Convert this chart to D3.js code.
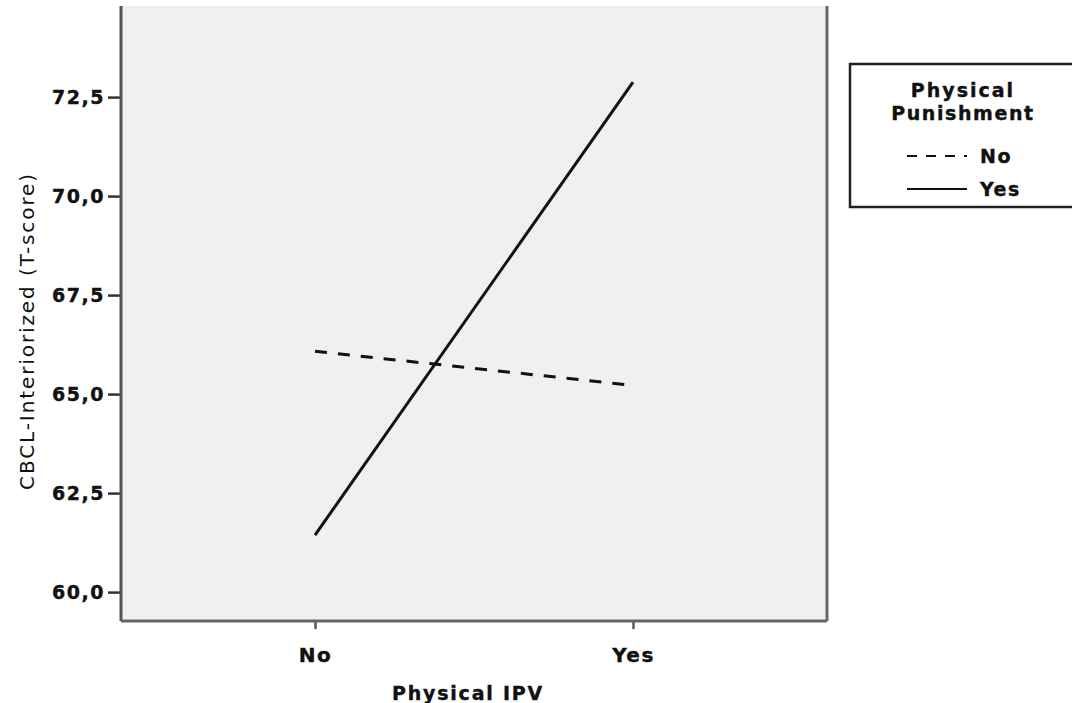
<!DOCTYPE html>
<html>
<head>
<meta charset="utf-8">
<script src="https://cdn.jsdelivr.net/npm/d3@7"></script>
<style>
  body { margin: 0; background: #fff; }
  text { font-family: "DejaVu Sans", sans-serif; fill: #111; }
  .heavy { stroke: #111; stroke-width: 0.4px; }
</style>
</head>
<body>
<div id="chart"></div>
<script>
// data
var ipvLevels = ["No", "Yes"];
var seriesNames = ["No", "Yes"];
var punishNo = [66.08, 65.22];
var punishYes = [61.44, 72.88];
var yTicks = [60.0, 62.5, 65.0, 67.5, 70.0, 72.5];

var W = 1072, H = 703;
var margin = {top: 6, right: 245, bottom: 82, left: 121},
    width = W - margin.left - margin.right,
    height = H - margin.top - margin.bottom;

var svg = d3.select("#chart").append("svg")
    .attr("width", W)
    .attr("height", H);

var g = svg.append("g")
    .attr("transform", "translate(" + margin.left + "," + margin.top + ")");

// plot background
g.append("rect")
    .attr("width", width)
    .attr("height", height)
    .attr("fill", "#f0f0f0");

var x = d3.scalePoint()
    .domain(ipvLevels)
    .range([194, 512]);

var y = d3.scaleLinear()
    .domain([59.27, 74.8])
    .range([height, 0]);

// y axis
var yAxis = g.append("g")
    .call(d3.axisLeft(y).tickValues(yTicks).tickSize(13).tickPadding(3)
        .tickFormat(function(d) { return d3.format(".1f")(d).replace(".", ","); }));
yAxis.select(".domain").remove();
yAxis.selectAll(".tick line").attr("stroke", "#333").attr("stroke-width", 2.5);
yAxis.selectAll(".tick text")
    .attr("class", "heavy")
    .style("font-size", "19px").style("font-weight", "bold")
    .style("letter-spacing", "1.5px").attr("fill", "#222");

// x axis
var xAxis = g.append("g")
    .attr("transform", "translate(0," + height + ")")
    .call(d3.axisBottom(x).tickSize(8).tickPadding(19));
xAxis.select(".domain").remove();
xAxis.selectAll(".tick line").attr("stroke", "#555").attr("stroke-width", 2.5);
xAxis.selectAll(".tick text")
    .attr("class", "heavy")
    .style("font-size", "20px").style("font-weight", "bold")
    .style("letter-spacing", "1.5px").attr("fill", "#222");

// frame
g.append("line").attr("x1", 0).attr("x2", 0).attr("y1", 0).attr("y2", height)
    .attr("stroke", "#555").attr("stroke-width", 3);
g.append("line").attr("x1", width).attr("x2", width).attr("y1", 0).attr("y2", height)
    .attr("stroke", "#666").attr("stroke-width", 3);
g.append("line").attr("x1", 0).attr("x2", width).attr("y1", height).attr("y2", height)
    .attr("stroke", "#666").attr("stroke-width", 3);

// lines
var line = d3.line()
    .x(function(d, i) { return x(ipvLevels[i]); })
    .y(function(d) { return y(d); });

g.append("path").datum(punishNo)
    .attr("d", line)
    .attr("fill", "none")
    .attr("stroke", "#111")
    .attr("stroke-width", 3)
    .attr("stroke-dasharray", "12,11");

g.append("path").datum(punishYes)
    .attr("d", line)
    .attr("fill", "none")
    .attr("stroke", "#111")
    .attr("stroke-width", 3);

// axis titles
svg.append("text")
    .attr("class", "heavy")
    .attr("x", margin.left + 347)
    .attr("y", 700)
    .attr("text-anchor", "middle")
    .style("font-size", "19px").style("font-weight", "bold")
    .style("letter-spacing", "1.8px")
    .text("Physical IPV");

svg.append("text")
    .attr("transform", "translate(34,331) rotate(-90)")
    .attr("text-anchor", "middle")
    .style("font-size", "20px")
    .style("letter-spacing", "1.9px")
    .attr("fill", "#222")
    .text("CBCL-Interiorized (T-score)");

// legend
var lg = svg.append("g").attr("transform", "translate(850,64)");
lg.append("rect")
    .attr("width", 240).attr("height", 143)
    .attr("fill", "#fff").attr("stroke", "#222").attr("stroke-width", 2.5);
lg.append("text").attr("x", 113).attr("y", 33).attr("text-anchor", "middle")
    .attr("class", "heavy")
    .style("font-size", "19px").style("font-weight", "bold").style("letter-spacing", "2px")
    .text("Physical");
lg.append("text").attr("x", 113).attr("y", 56).attr("text-anchor", "middle")
    .attr("class", "heavy")
    .style("font-size", "19px").style("font-weight", "bold").style("letter-spacing", "1.6px")
    .text("Punishment");

var items = lg.selectAll(".item").data(seriesNames).enter().append("g")
    .attr("class", "item")
    .attr("transform", function(d, i) { return "translate(0," + (92 + i * 33) + ")"; });
items.append("line")
    .attr("x1", 57).attr("x2", 117).attr("y1", 0).attr("y2", 0)
    .attr("stroke", "#111").attr("stroke-width", 2)
    .attr("stroke-dasharray", function(d) { return d === "No" ? "10,9" : null; });
items.append("text")
    .attr("class", "heavy")
    .attr("x", 130).attr("y", 7)
    .style("font-size", "19px").style("font-weight", "bold").style("letter-spacing", "1.5px")
    .text(function(d) { return d; });
</script>
</body>
</html>
